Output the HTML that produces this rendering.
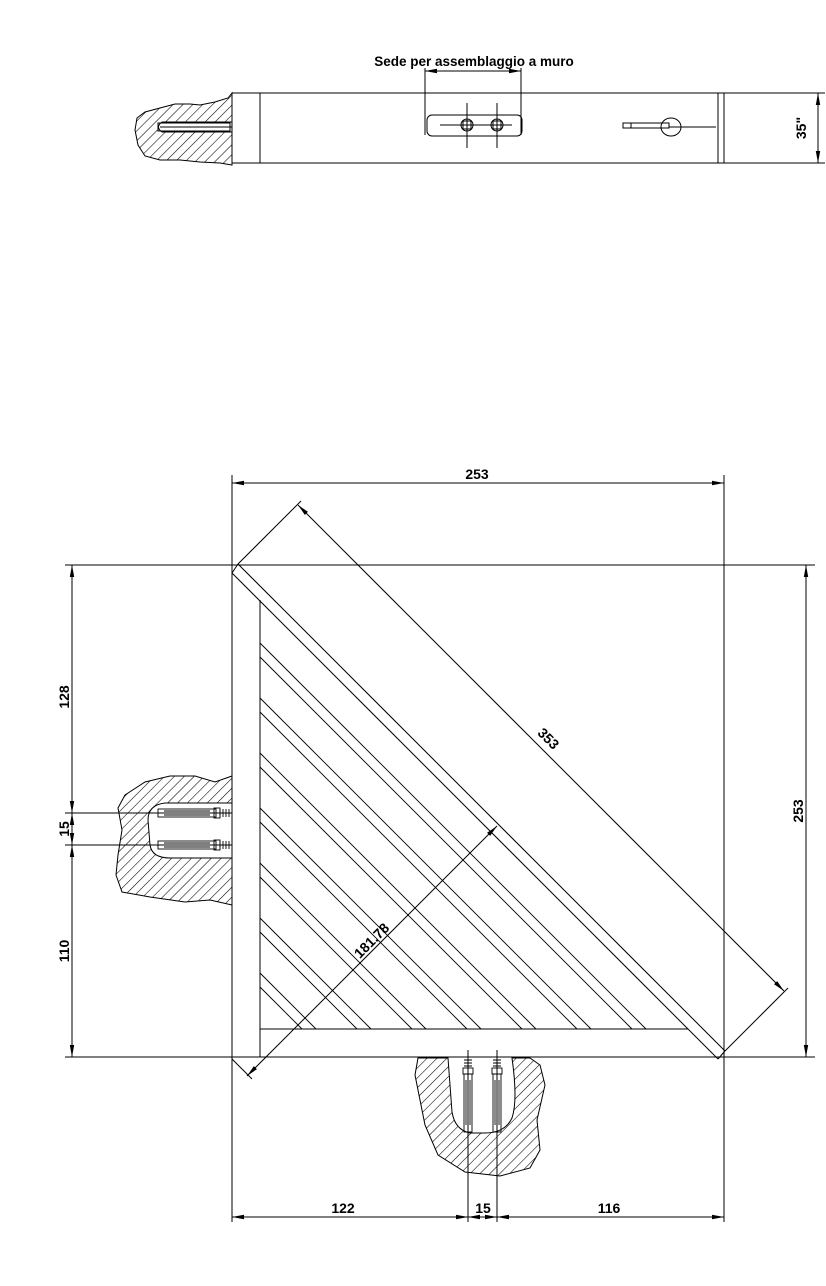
<!DOCTYPE html>
<html><head><meta charset="utf-8"><style>
html,body{margin:0;padding:0;background:#fff}
svg{display:block}
text{font-family:"Liberation Sans",Arial,sans-serif;font-weight:bold;fill:#000}
</style></head><body>
<svg width="826" height="1286" viewBox="0 0 826 1286" xmlns="http://www.w3.org/2000/svg">
<defs>
<pattern id="h" patternUnits="userSpaceOnUse" width="7" height="7" patternTransform="rotate(45)">
<line x1="0" y1="0" x2="0" y2="7" stroke="#000" stroke-width="1.1"/>
</pattern>
<marker id="a" viewBox="0 0 12 10" refX="12" refY="5" markerWidth="12" markerHeight="10" orient="auto-start-reverse" markerUnits="userSpaceOnUse">
<path d="M0,2.8 L12,5 L0,7.2 z" fill="#000"/>
</marker>
</defs>
<g stroke="#000" stroke-width="1" fill="none">
<!-- TOP VIEW -->
<text x="474" y="66" font-size="13.5" text-anchor="middle" stroke="none">Sede per assemblaggio a muro</text>
<line x1="425" y1="68" x2="425" y2="135"/>
<line x1="521" y1="68" x2="521" y2="135"/>
<line x1="425" y1="71" x2="521" y2="71" marker-start="url(#a)" marker-end="url(#a)"/>
<path d="M232,93 L228,98 L215,102 L200,105 L190,104 L175,104 L160,108 L145,112 L137,118 L135,130 L138,145 L145,156 L160,160 L180,160 L200,162 L220,163 L232,165 Z M232,122 L162,122 Q155,127 162,132 L232,132 Z" fill="url(#h)" fill-rule="evenodd"/>
<rect x="158" y="123" width="72" height="8"/>
<line x1="160" y1="127" x2="232" y2="127"/>
<rect x="232" y="93" width="492" height="70"/>
<line x1="260" y1="93" x2="260" y2="163"/>
<line x1="718" y1="93" x2="718" y2="163"/>
<rect x="427" y="115" width="95" height="21" rx="5"/>
<line x1="440" y1="125" x2="512" y2="125"/>
<line x1="467" y1="103" x2="467" y2="148"/>
<line x1="497" y1="103" x2="497" y2="148"/>
<circle cx="467" cy="125" r="6"/><circle cx="497" cy="125" r="6"/>
<rect x="463" y="121" width="8" height="8"/><rect x="493" y="121" width="8" height="8"/>
<rect x="623" y="123" width="8" height="5"/>
<rect x="631" y="123" width="38" height="5"/>
<ellipse cx="671" cy="127" rx="10" ry="9"/>
<line x1="669" y1="127" x2="716" y2="127"/>
<line x1="724" y1="93" x2="825" y2="93"/>
<line x1="724" y1="163" x2="825" y2="163"/>
<line x1="818" y1="93" x2="818" y2="163" marker-start="url(#a)" marker-end="url(#a)"/>
<text transform="translate(806,128) rotate(-90)" font-size="14" text-anchor="middle" stroke="none">35"</text>

<!-- MAIN PLAN -->
<line x1="232" y1="475" x2="232" y2="1222"/>
<line x1="724" y1="475" x2="724" y2="1222"/>
<line x1="232" y1="483" x2="724" y2="483" marker-start="url(#a)" marker-end="url(#a)"/>
<text x="477" y="479" font-size="14" text-anchor="middle" stroke="none">253</text>
<line x1="65" y1="565" x2="815" y2="565"/>
<line x1="65" y1="1057" x2="815" y2="1057"/>
<line x1="65" y1="813" x2="232" y2="813"/>
<line x1="65" y1="845" x2="232" y2="845"/>
<line x1="806" y1="565" x2="806" y2="1057" marker-start="url(#a)" marker-end="url(#a)"/>
<text transform="translate(803,811) rotate(-90)" font-size="14" text-anchor="middle" stroke="none">253</text>
<line x1="72" y1="565" x2="72" y2="813" marker-start="url(#a)" marker-end="url(#a)"/>
<line x1="72" y1="813" x2="72" y2="845" marker-start="url(#a)" marker-end="url(#a)"/>
<line x1="72" y1="845" x2="72" y2="1057" marker-start="url(#a)" marker-end="url(#a)"/>
<text transform="translate(69,697) rotate(-90)" font-size="14" text-anchor="middle" stroke="none">128</text>
<text transform="translate(69,829) rotate(-90)" font-size="14" text-anchor="middle" stroke="none">15</text>
<text transform="translate(69,951) rotate(-90)" font-size="14" text-anchor="middle" stroke="none">110</text>
<line x1="468" y1="1050" x2="468" y2="1222"/>
<line x1="497" y1="1050" x2="497" y2="1222"/>
<line x1="232" y1="1217" x2="468" y2="1217" marker-start="url(#a)" marker-end="url(#a)"/>
<line x1="468" y1="1217" x2="497" y2="1217" marker-start="url(#a)" marker-end="url(#a)"/>
<line x1="497" y1="1217" x2="724" y2="1217" marker-start="url(#a)" marker-end="url(#a)"/>
<text x="343" y="1213" font-size="14" text-anchor="middle" stroke="none">122</text>
<text x="483" y="1213" font-size="14" text-anchor="middle" stroke="none">15</text>
<text x="609" y="1213" font-size="14" text-anchor="middle" stroke="none">116</text>

<!-- left wall -->
<path d="M232,776 L215,782 L195,776 L170,776 L145,782 L125,795 L118,808 L122,830 L118,855 L116,875 L122,892 L150,897 L185,902 L210,900 L232,905 Z M232,803 L165,803 Q148,805 148,820 L150,845 Q152,858 170,858 L232,858 Z" fill="url(#h)" fill-rule="evenodd"/>
<g stroke-width="0.9">
<rect x="158" y="809" width="58" height="8"/><rect x="158" y="841" width="58" height="8"/>
<line x1="164" y1="811" x2="210" y2="811"/><line x1="164" y1="815" x2="210" y2="815"/>
<line x1="164" y1="843" x2="210" y2="843"/><line x1="164" y1="847" x2="210" y2="847"/>
<rect x="214" y="808" width="6" height="10"/><rect x="214" y="840" width="6" height="10"/>
<path d="M220,809 v8 M223,809 v8 M226,809 v8 M229,809 v8 M220,841 v8 M223,841 v8 M226,841 v8 M229,841 v8"/>
</g>
<!-- bottom wall -->
<path d="M418,1058 L415,1075 L420,1100 L425,1125 L438,1155 L465,1172 L500,1176 L530,1168 L540,1150 L537,1120 L545,1085 L540,1065 L530,1058 L512,1058 Q518,1100 512,1118 Q505,1133 485,1133 L470,1133 Q455,1130 452,1112 L448,1058 Z" fill="url(#h)" fill-rule="evenodd"/>
<g stroke-width="0.9">
<rect x="464" y="1074" width="8" height="58"/><rect x="493" y="1074" width="8" height="58"/>
<line x1="466" y1="1080" x2="466" y2="1125"/><line x1="470" y1="1080" x2="470" y2="1125"/>
<line x1="495" y1="1080" x2="495" y2="1125"/><line x1="499" y1="1080" x2="499" y2="1125"/>
<rect x="463" y="1068" width="10" height="6"/><rect x="492" y="1068" width="10" height="6"/>
<path d="M464,1060 h8 M464,1063 h8 M464,1066 h8 M493,1060 h8 M493,1063 h8 M493,1066 h8"/>
</g>

<!-- shelf -->
<line x1="260" y1="600" x2="260" y2="1057"/>
<line x1="260" y1="1029" x2="688" y2="1029"/>
<line x1="238" y1="564" x2="725" y2="1051"/>
<line x1="232" y1="573" x2="718" y2="1059"/>
<line x1="232" y1="573" x2="238" y2="564"/>
<line x1="718" y1="1059" x2="725" y2="1051"/>
<g stroke-width="0.9">
<line x1="260" y1="643" x2="646" y2="1029"/><line x1="260" y1="657" x2="632" y2="1029"/>
<line x1="260" y1="698" x2="591" y2="1029"/><line x1="260" y1="712" x2="577" y2="1029"/>
<line x1="260" y1="753" x2="536" y2="1029"/><line x1="260" y1="767" x2="522" y2="1029"/>
<line x1="260" y1="808" x2="481" y2="1029"/><line x1="260" y1="822" x2="467" y2="1029"/>
<line x1="260" y1="863" x2="426" y2="1029"/><line x1="260" y1="877" x2="412" y2="1029"/>
<line x1="260" y1="918" x2="371" y2="1029"/><line x1="260" y1="932" x2="357" y2="1029"/>
<line x1="260" y1="973" x2="316" y2="1029"/><line x1="260" y1="987" x2="302" y2="1029"/>
</g>
<!-- 353 dim -->
<line x1="238" y1="564" x2="301" y2="501"/>
<line x1="725" y1="1051" x2="788" y2="988"/>
<line x1="298" y1="505" x2="784" y2="991" marker-start="url(#a)" marker-end="url(#a)"/>
<text transform="translate(545,742) rotate(45)" font-size="14" text-anchor="middle" stroke="none">353</text>
<!-- 181.78 dim -->
<line x1="232" y1="1059" x2="252" y2="1079"/>
<line x1="247" y1="1076" x2="497" y2="826" marker-start="url(#a)" marker-end="url(#a)"/>
<text transform="translate(375,944) rotate(-45)" font-size="14" text-anchor="middle" stroke="none">181.78</text>
</g>
</svg>
</body></html>
